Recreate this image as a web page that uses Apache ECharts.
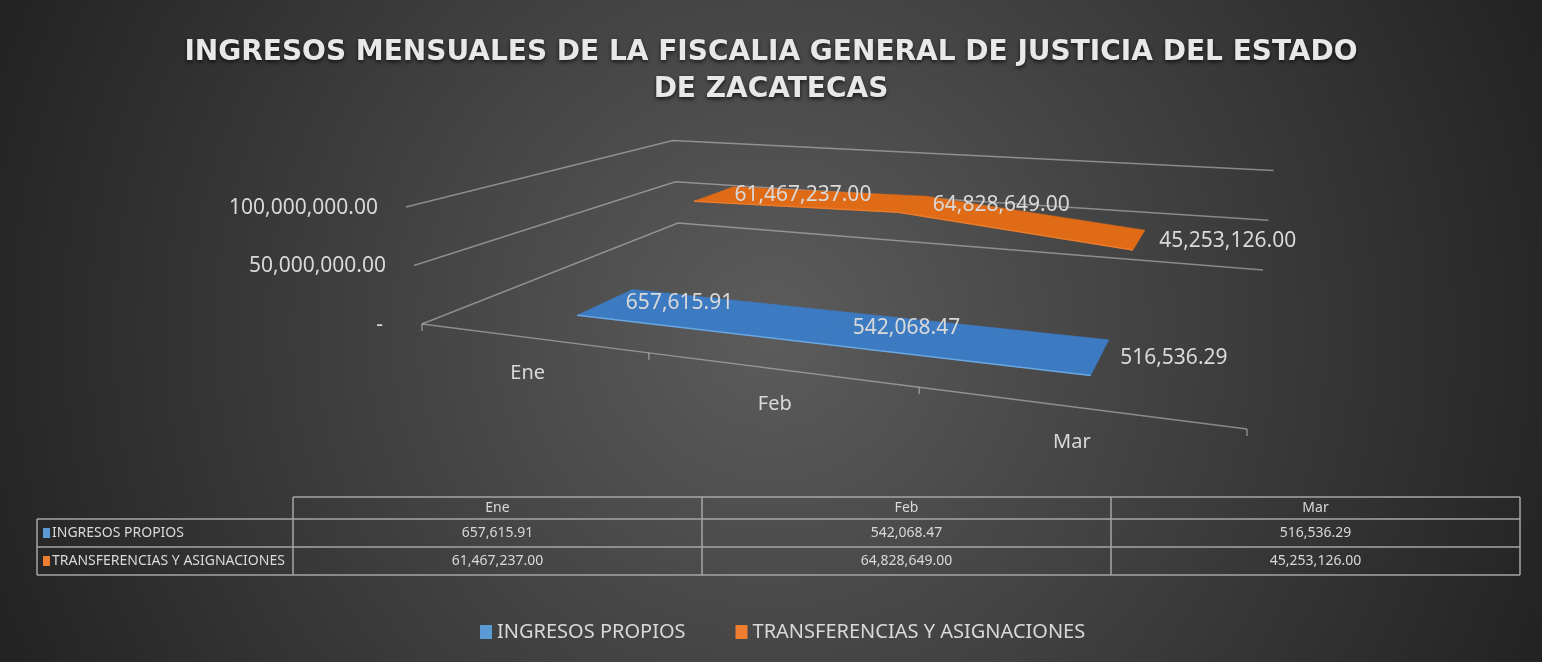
<!DOCTYPE html>
<html>
<head>
<meta charset="utf-8">
<script src="https://cdn.jsdelivr.net/npm/echarts@6/dist/echarts.min.js"></script>
<style>
html, body { margin: 0; padding: 0; background: #2a2a2a; }
#chart { width: 1542px; height: 662px; }
</style>
</head>
<body>
<div id="chart"></div>
<script>
const months = ['Ene', 'Feb', 'Mar']
const ingresosPropios = [657615.91, 542068.47, 516536.29]
const transferencias = [61467237.00, 64828649.00, 45253126.00]
const seriesNames = ['INGRESOS PROPIOS', 'TRANSFERENCIAS Y ASIGNACIONES']
const yTicks = [0, 50000000, 100000000]

const textColor = '#d9d9d9'
const fontFamily = 'Noto Sans'

// vista 3D: esquinas del piso (frente-izq, frente-der, fondo-der, fondo-izq)
const floor = [[422, 324], [1247, 429], [1263, 270], [678, 223]]
const wallHeight = 117 // px del rango completo en la esquina frontal izquierda
const lean = 0.00029
const leanX = 894
// profundidad de cada serie (0 = frente, 1 = fondo)
const rowDepth = [[0.15, 0.355], [0.645, 0.85]]

function homography(q) {
    const [[x0, y0], [x1, y1], [x2, y2], [x3, y3]] = q
    const sx = x0 - x1 + x2 - x3
    const sy = y0 - y1 + y2 - y3
    const dx1 = x1 - x2, dx2 = x3 - x2, dy1 = y1 - y2, dy2 = y3 - y2
    const den = dx1 * dy2 - dx2 * dy1
    const g = (sx * dy2 - dx2 * sy) / den
    const h = (dx1 * sy - sx * dy1) / den
    return {
        a: x1 - x0 + g * x1, b: x3 - x0 + h * x3, c: x0,
        d: y1 - y0 + g * y1, e: y3 - y0 + h * y3, f: y0, g, h
    }
}
const H = homography(floor)

function project(u, v, t) {
    const w = H.g * u + H.h * v + 1
    const x = (H.a * u + H.b * v + H.c) / w
    const y = (H.d * u + H.e * v + H.f) / w
    const hgt = wallHeight * t / w
    return [x + (x - leanX) * lean * hgt, y - hgt]
}

// pixel de la rejilla oculta -> fracciones (u, t)
function toUnit(params, pt) {
    const cs = params.coordSys
    return [(pt[0] - cs.x) / cs.width, (cs.y + cs.height - pt[1]) / cs.height]
}

function fmt(v) {
    return v.toLocaleString('en-US', { minimumFractionDigits: 2, maximumFractionDigits: 2 })
}

function ribbon(values, depth, fill, edge) {
    return function (params, api) {
        const i = params.dataIndex
        const cur = toUnit(params, api.coord([i, values[i]]))
        const children = []
        if (i < values.length - 1) {
            const nxt = toUnit(params, api.coord([i + 1, values[i + 1]]))
            const pts = [
                project(cur[0], depth[0], cur[1]),
                project(nxt[0], depth[0], nxt[1]),
                project(nxt[0], depth[1], nxt[1]),
                project(cur[0], depth[1], cur[1])
            ]
            children.push({ type: 'polygon', shape: { points: pts }, style: { fill: fill, stroke: fill, lineWidth: 0.5 } })
            children.push({ type: 'polyline', shape: { points: [pts[0], pts[1]] }, style: { stroke: edge, lineWidth: 1.5, fill: null } })
        }
        const mid = project(cur[0], (depth[0] + depth[1]) / 2, cur[1])
        children.push({
            type: 'text', z2: 10,
            style: {
                text: fmt(values[i]), x: mid[0] + 20, y: mid[1] + 1,
                fill: textColor, fontSize: 21, fontFamily: fontFamily,
                align: 'left', verticalAlign: 'middle'
            }
        })
        return { type: 'group', children }
    }
}

function renderWalls(params, api) {
    const v = api.value(1)
    const t = toUnit(params, api.coord([0, v]))[1]
    const p0 = project(0, 0, t), p1 = project(0, 1, t), p2 = project(1, 1, t)
    return {
        type: 'group',
        children: [
            { type: 'polyline', shape: { points: [p0, p1, p2] }, style: { stroke: 'rgba(200,200,200,0.55)', lineWidth: 1.5, fill: null } },
            {
                type: 'text',
                style: {
                    text: v === 0 ? '-  ' : fmt(v), x: p0[0] - 28, y: p0[1] + 1,
                    fill: textColor, fontSize: 21, fontFamily: fontFamily,
                    align: 'right', verticalAlign: 'middle'
                }
            }
        ]
    }
}

function renderCategories(params, api) {
    const i = params.dataIndex
    const cs = params.coordSys
    const c = api.coord([i, 0])
    const half = api.size([1, 0])[0] / 2
    const a = project((c[0] - half - cs.x) / cs.width, 0, 0)
    const b = project((c[0] + half - cs.x) / cs.width, 0, 0)
    const m = project((c[0] - cs.x) / cs.width, 0, 0)
    const line = { stroke: 'rgba(200,200,200,0.55)', lineWidth: 1.5, fill: null }
    const children = [
        { type: 'polyline', shape: { points: [a, b] }, style: line },
        { type: 'line', shape: { x1: a[0], y1: a[1], x2: a[0], y2: a[1] + 7 }, style: line }
    ]
    if (i === months.length - 1) {
        children.push({ type: 'line', shape: { x1: b[0], y1: b[1], x2: b[0], y2: b[1] + 7 }, style: line })
    }
    children.push({
        type: 'text',
        style: {
            text: months[i], x: m[0] - 3, y: m[1] + 35,
            fill: textColor, fontSize: 20, fontFamily: fontFamily,
            align: 'center', verticalAlign: 'middle'
        }
    })
    return { type: 'group', children }
}

// tabla de datos
const tableLeft = 293, tableRight = 1520, labelLeft = 37
const rowTops = [497, 519, 547, 575]
const tableColors = ['#5b9bd5', '#ed7d31']
function buildTable() {
    const els = []
    const colW = (tableRight - tableLeft) / months.length
    const ln = { stroke: '#a6a6a6', lineWidth: 1.5 }
    els.push({ type: 'line', shape: { x1: tableLeft, y1: rowTops[0], x2: tableRight, y2: rowTops[0] }, style: ln })
    for (let r = 1; r < rowTops.length; r++) {
        els.push({ type: 'line', shape: { x1: labelLeft, y1: rowTops[r], x2: tableRight, y2: rowTops[r] }, style: ln })
    }
    els.push({ type: 'line', shape: { x1: labelLeft, y1: rowTops[1], x2: labelLeft, y2: rowTops[3] }, style: ln })
    for (let c = 0; c <= months.length; c++) {
        const x = tableLeft + c * colW
        els.push({ type: 'line', shape: { x1: x, y1: rowTops[0], x2: x, y2: rowTops[3] }, style: ln })
    }
    const rows = [ingresosPropios, transferencias]
    months.forEach((m, c) => {
        const cx = tableLeft + (c + 0.5) * colW
        els.push({ type: 'text', style: { text: m, x: cx, y: (rowTops[0] + rowTops[1]) / 2, fill: textColor, fontSize: 14, fontFamily: fontFamily, align: 'center', verticalAlign: 'middle' } })
        rows.forEach((vals, r) => {
            els.push({ type: 'text', style: { text: fmt(vals[c]), x: cx, y: (rowTops[r + 1] + rowTops[r + 2]) / 2, fill: textColor, fontSize: 14, fontFamily: fontFamily, align: 'center', verticalAlign: 'middle' } })
        })
    })
    seriesNames.forEach((name, r) => {
        const cy = (rowTops[r + 1] + rowTops[r + 2]) / 2
        els.push({ type: 'rect', shape: { x: labelLeft + 6, y: cy - 5, width: 7, height: 10 }, style: { fill: tableColors[r] } })
        els.push({ type: 'text', style: { text: name, x: labelLeft + 15, y: cy, fill: textColor, fontSize: 14, fontFamily: fontFamily, align: 'left', verticalAlign: 'middle' } })
    })
    return els
}

const chart = echarts.init(document.getElementById('chart'))
chart.setOption({
    animation: false,
    title: {
        text: 'INGRESOS MENSUALES DE LA FISCALIA GENERAL DE JUSTICIA DEL ESTADO\nDE ZACATECAS',
        left: 'center',
        top: 34,
        padding: [0, 0, 0, 16],
        textStyle: {
            color: '#e8e8e8',
            fontSize: 28,
            fontWeight: 'bold',
            fontFamily: 'DejaVu Sans',
            lineHeight: 37,
            textShadowColor: 'rgba(0,0,0,0.7)',
            textShadowBlur: 4,
            textShadowOffsetY: 2
        }
    },
    legend: {
        data: [
            { name: seriesNames[0], itemStyle: { color: tableColors[0] } },
            { name: seriesNames[1], itemStyle: { color: tableColors[1] } }
        ],
        icon: 'rect',
        left: 475,
        top: 617,
        itemWidth: 12,
        itemHeight: 14,
        itemGap: 50,
        textStyle: { color: textColor, fontSize: 20, fontFamily: fontFamily }
    },
    graphic: [
        {
            type: 'rect', z: -100, silent: true,
            shape: { x: 0, y: 0, width: 1542, height: 662 },
            style: {
                fill: new echarts.graphic.RadialGradient(0.5, 0.5, 1.25, [
                    { offset: 0, color: '#5c5c5c' },
                    { offset: 1, color: '#232323' }
                ])
            }
        },
        { type: 'group', children: buildTable() }
    ],
    grid: { left: 0, top: 0, width: 300, height: 300, show: false },
    xAxis: { type: 'category', data: months, show: false },
    yAxis: { type: 'value', min: 0, max: 100000000, interval: 50000000, show: false },
    series: [
        {
            type: 'custom', name: 'walls', z: 1, silent: true,
            renderItem: renderWalls,
            data: yTicks.map(v => [0, v])
        },
        {
            type: 'custom', name: 'categories', z: 1, silent: true,
            renderItem: renderCategories,
            data: months.map((m, i) => [i, 0])
        },
        {
            type: 'custom', name: seriesNames[1], z: 3,
            itemStyle: { color: tableColors[1] },
            renderItem: ribbon(transferencias, rowDepth[1], '#df6b16', '#e97b2a'),
            data: transferencias.map((v, i) => [i, v])
        },
        {
            type: 'custom', name: seriesNames[0], z: 4,
            itemStyle: { color: tableColors[0] },
            renderItem: ribbon(ingresosPropios, rowDepth[0], '#3c7bc2', '#6aa6e0'),
            data: ingresosPropios.map((v, i) => [i, v])
        }
    ]
})
</script>
</body>
</html>
